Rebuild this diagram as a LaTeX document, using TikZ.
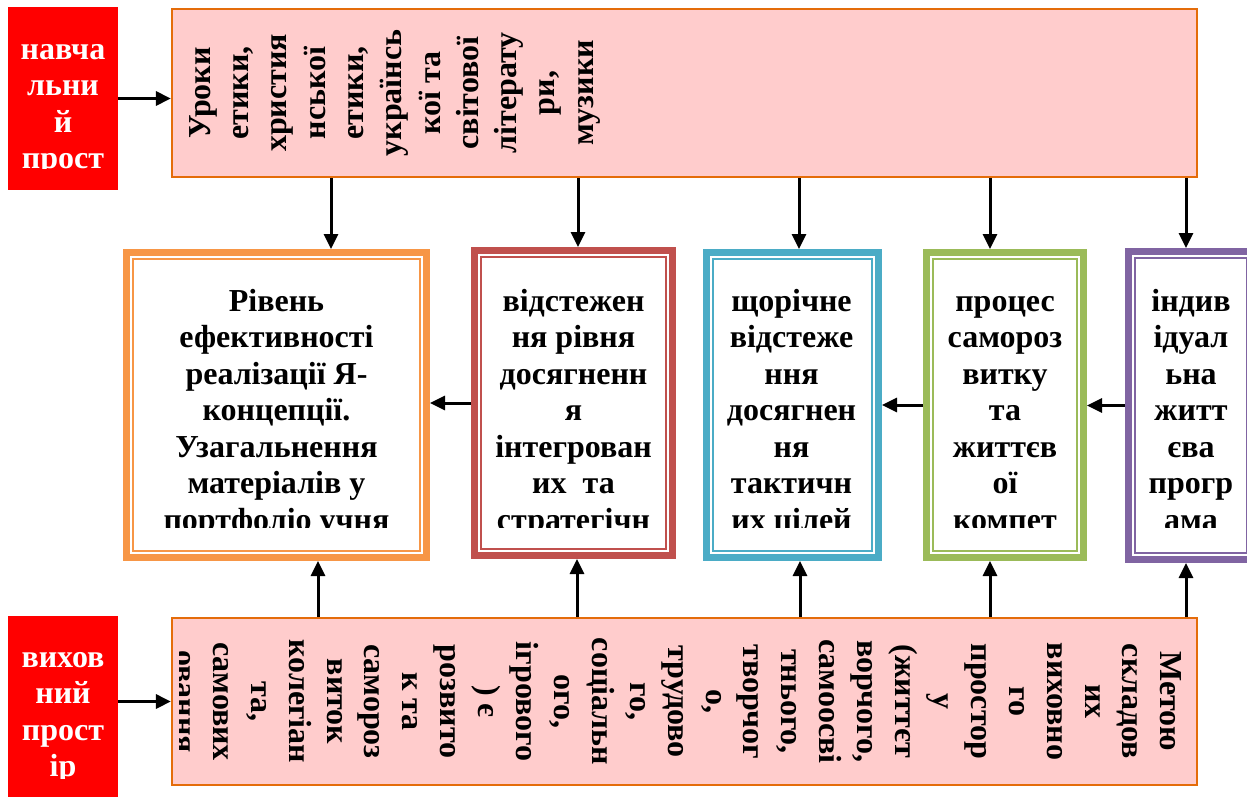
\documentclass[tikz,border=0pt]{standalone}
\usepackage{fontspec}
\setmainfont{Liberation Serif}
\usetikzlibrary{arrows.meta,calc}
\definecolor{pinkfill}{RGB}{255,204,204}
\definecolor{pinkborder}{RGB}{228,108,10}
\definecolor{labred}{RGB}{255,0,0}
\definecolor{cOrange}{RGB}{247,150,70}
\definecolor{cRed}{RGB}{192,80,77}
\definecolor{cBlue}{RGB}{75,172,198}
\definecolor{cGreen}{RGB}{155,187,89}
\definecolor{cPurple}{RGB}{128,100,162}
\begin{document}
\begin{tikzpicture}[x=1pt,y=-1pt,
  labbox/.style={fill=labred, draw=none, inner sep=0, minimum width=110pt},
  pinkbox/.style={fill=pinkfill, draw=pinkborder, line width=2.2pt, inner sep=0, minimum width=1025pt, minimum height=168pt},
  midbox/.style={draw=#1, line width=7pt, fill=white, inner sep=0},
  thinline/.style={draw=#1, line width=1.8pt},
  arr/.style={line width=3pt, -{Triangle[length=15pt,width=14pt]}},
  txt/.style={font=\fontsize{32}{36.5}\selectfont\bfseries, align=center, inner sep=0},
  rtxt/.style={font=\fontsize{32}{38.3}\selectfont\bfseries, align=center, inner sep=0},
  btxt/.style={font=\fontsize{32}{37.9}\selectfont\bfseries, align=center, inner sep=0}
]
\useasboundingbox (0,0) rectangle (1247,797);

% side labels
\node[labbox, minimum height=183pt] (lab1) at (63,98.5) {};
\node[labbox, minimum height=181pt] (lab2) at (63,706.5) {};

% pink boxes
\node[pinkbox] (top) at (684.5,93) {};
\node[pinkbox, minimum height=167pt] (bot) at (684.5,701.5) {};

% middle boxes
\node[midbox=cOrange, minimum width=300pt, minimum height=305pt] (b1) at (276.5,405) {};
\node[midbox=cRed, minimum width=198pt, minimum height=305pt] (b2) at (573.5,403) {};
\node[midbox=cBlue, minimum width=172pt, minimum height=305pt] (b3) at (792.5,405) {};
\node[midbox=cGreen, minimum width=157pt, minimum height=305pt] (b4) at (1005,405) {};
\node[midbox=cPurple, minimum width=125pt, minimum height=308pt] (b5) at (1191,405.5) {};

\draw[thinline=cOrange] ([shift={(10.25,10.25)}]b1.north west) rectangle ([shift={(-10.25,-10.25)}]b1.south east);
\draw[thinline=cRed] ([shift={(10.25,10.25)}]b2.north west) rectangle ([shift={(-10.25,-10.25)}]b2.south east);
\draw[thinline=cBlue] ([shift={(10.25,10.25)}]b3.north west) rectangle ([shift={(-10.25,-10.25)}]b3.south east);
\draw[thinline=cGreen] ([shift={(10.25,10.25)}]b4.north west) rectangle ([shift={(-10.25,-10.25)}]b4.south east);
\draw[thinline=cPurple] ([shift={(10.25,10.25)}]b5.north west) rectangle ([shift={(-10.25,-10.25)}]b5.south east);

% label texts
\begin{scope}
\clip (8,7) rectangle (118,168);
\node[txt, text=white, anchor=north] (lt1) at (63,29) {\rule{0pt}{30pt}навча\\льни\\й\\прост};
\end{scope}
\begin{scope}
\clip (8,616) rectangle (118,778);
\node[txt, text=white, anchor=north] (lt2) at (63,637) {\rule{0pt}{30pt}вихов\\ний\\прост\\ір};
\end{scope}

% top box text
\node[rtxt, rotate=90, anchor=north] (tt) at (180,93) {\rule{0pt}{30pt}Уроки\\етики,\\христия\\нської\\етики,\\українсь\\кої та\\світової\\літерату\\ри,\\музики};

% bottom box text
\begin{scope}
\clip (179,617) rectangle (1198,786);
\node[btxt, rotate=-90, anchor=north] (bt) at (1191,701.5) {\rule{0pt}{30pt}Метою\\складов\\их\\виховно\\го\\простор\\у\\(життєт\\ворчого,\\самоосві\\тнього,\\творчог\\о,\\трудово\\го,\\соціальн\\ого,\\ігрового\\) є\\розвито\\к та\\самороз\\виток\\колегіан\\та,\\самових\\овання};
\end{scope}

% middle texts
\begin{scope}
\clip (120,240) rectangle (1247,527);
\node[txt, anchor=north] (m1) at (276.5,281) {\rule{0pt}{30pt}Рівень\\ефективності\\реалізації Я-\\концепції.\\Узагальнення\\матеріалів у\\портфоліо учня};
\node[txt, anchor=north] (m2) at (573.5,281) {\rule{0pt}{30pt}відстежен\\ня рівня\\досягненн\\я\\інтегрован\\их~~та\\стратегічн};
\node[txt, anchor=north] (m3) at (791.5,281) {\rule{0pt}{30pt}щорічне\\відстеже\\ння\\досягнен\\ня\\тактичн\\их цілей};
\node[txt, anchor=north] (m4) at (1005,281) {\rule{0pt}{30pt}процес\\самороз\\витку\\та\\життєв\\ої\\компет};
\node[txt, anchor=north] (m5) at (1191,281) {\rule{0pt}{30pt}індив\\ідуал\\ьна\\житт\\єва\\прогр\\ама};
\end{scope}

% connector coordinates
\coordinate (a1) at (331,0);
\coordinate (a2) at (578,0);
\coordinate (a3) at (799,0);
\coordinate (a4) at (990,0);
\coordinate (a5) at (1186,0);
\coordinate (c1) at (318,0);
\coordinate (c2) at (577,0);
\coordinate (c3) at (800,0);
\coordinate (c4) at (990,0);
\coordinate (c5) at (1186,0);

% arrows
\draw[arr] (lab1.east) -- (lab1.east -| top.west);
\draw[arr] (lab2.east |- bot.center) -- (bot.west);

\draw[arr] (top.south -| a1) -- (b1.north -| a1);
\draw[arr] (top.south -| a2) -- (b2.north -| a2);
\draw[arr] (top.south -| a3) -- (b3.north -| a3);
\draw[arr] (top.south -| a4) -- (b4.north -| a4);
\draw[arr] (top.south -| a5) -- (b5.north -| a5);

\draw[arr] (bot.north -| c1) -- (b1.south -| c1);
\draw[arr] (bot.north -| c2) -- (b2.south -| c2);
\draw[arr] (bot.north -| c3) -- (b3.south -| c3);
\draw[arr] (bot.north -| c4) -- (b4.south -| c4);
\draw[arr] (bot.north -| c5) -- (b5.south -| c5);

\draw[arr] (b2.west) -- (b2.west -| b1.east);
\draw[arr] (b4.west) -- (b4.west -| b3.east);
\draw[arr] (b5.west) -- (b5.west -| b4.east);
\end{tikzpicture}
\end{document}
